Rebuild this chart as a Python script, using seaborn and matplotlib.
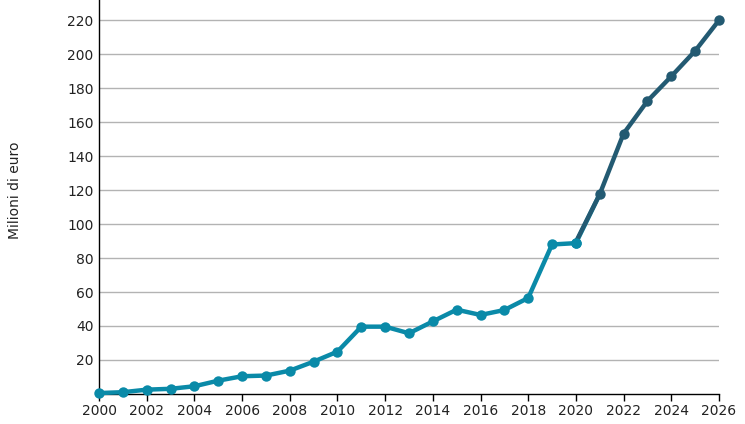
import matplotlib
matplotlib.use("Agg")
import matplotlib.pyplot as plt
import seaborn as sns
import pandas as pd

years_hist = [2000, 2001, 2002, 2003, 2004, 2005, 2006, 2007, 2008, 2009, 2010,
              2011, 2012, 2013, 2014, 2015, 2016, 2017, 2018, 2019, 2020, 2021]
values_hist = [0.5, 1.0, 2.5, 3.0, 4.5, 7.8, 10.4, 10.8, 13.7, 19.0, 24.9,
               39.6, 39.6, 35.7, 42.7, 49.6, 46.5, 49.4, 56.5, 88.0, 88.8, 117.6]
years_fc = [2020, 2021, 2022, 2023, 2024, 2025, 2026]
values_fc = [89.5, 117.6, 153.3, 172.5, 187.0, 202.0, 220.0]
xticks = list(range(2000, 2027, 2))
yticks = list(range(20, 221, 20))

sns.set_style("white")
plt.rcParams['font.family'] = ['DejaVu Sans']

fig = plt.figure(figsize=(7.45, 4.24), dpi=100)
ax = fig.add_axes([0.133, 0.071, 0.832, 0.929])

for y in yticks:
    ax.axhline(y, color="#b3b3b3", lw=1, zorder=0)

df_h = pd.DataFrame({"x": years_hist, "y": values_hist})
df_f = pd.DataFrame({"x": years_fc, "y": values_fc})
sns.lineplot(data=df_f, x="x", y="y", ax=ax, color="#235a72", lw=3.2,
             marker="o", markersize=7.5, markeredgewidth=0, clip_on=False, zorder=4,
             markevery=list(range(1, len(years_fc))))
sns.lineplot(data=df_h, x="x", y="y", ax=ax, color="#0a8aa8", lw=3.2,
             marker="o", markersize=7.5, markeredgewidth=0, clip_on=False, zorder=3,
             markevery=list(range(0, len(years_hist) - 1)))
ax.plot([years_hist[-2]], [values_hist[-2]], "o", color="#0a8aa8", ms=7.5, mew=0, zorder=5, clip_on=False)

ax.set_xlim(2000, 2026)
ax.set_ylim(0, 232)
ax.set_xticks(xticks)
ax.set_xticklabels([str(t) for t in xticks])
ax.set_yticks(yticks)
ax.set_yticklabels([str(t) for t in yticks])
ax.tick_params(axis="x", length=5, width=1, color="black", labelsize=10, labelcolor="#222222", pad=2, direction="out", bottom=True)
ax.tick_params(axis="y", length=0, labelsize=10, labelcolor="#222222", pad=4)
ax.set_xlabel("")
ax.set_ylabel("")
for s in ["top", "right"]:
    ax.spines[s].set_visible(False)
for s in ["left", "bottom"]:
    ax.spines[s].set_color("black")
    ax.spines[s].set_linewidth(1)

fig.text(15 / 745, 1 - 190 / 424, "Milioni di euro", rotation=90, va="center", ha="center",
         fontsize=10, color="#222222")

fig.savefig("out.png", dpi=100)
